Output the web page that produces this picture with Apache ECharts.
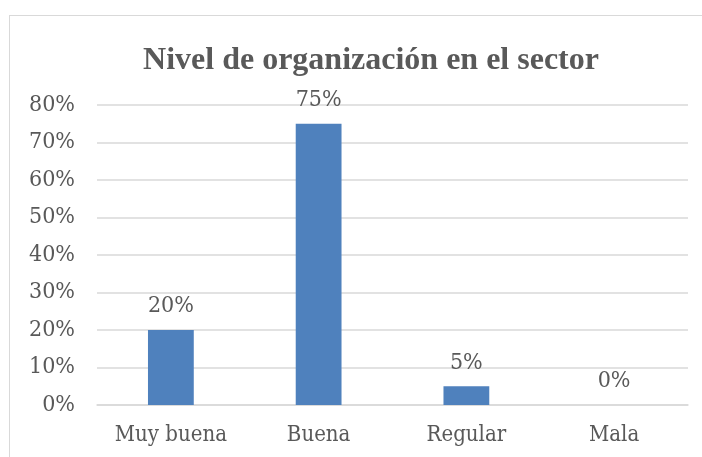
<!DOCTYPE html>
<html>
<head>
<meta charset="utf-8">
<script src="https://cdn.jsdelivr.net/npm/echarts@6/dist/echarts.min.js"></script>
<style>
  html, body { margin: 0; padding: 0; background: #fff; overflow: hidden; }
  #chart {
    position: absolute; left: 9px; top: 15px;
    width: 702px; height: 460px;
    border: 1.5px solid #d9d9d9; box-sizing: border-box;
  }
</style>
</head>
<body>
<div id="chart"></div>
<script>
// datos del gráfico
var categorias = ["Muy buena", "Buena", "Regular", "Mala"];
var valores = [20, 75, 5, 0];
var titulo = "Nivel de organización en el sector";

var labelFont = "'DejaVu Serif Condensed', 'Liberation Serif', serif";

var myecharts = echarts.init(document.getElementById("chart"));
var option = {
  animation: false,
  title: {
    text: titulo,
    left: 356,
    top: 24,
    textAlign: "center",
    textStyle: {
      fontFamily: "'Liberation Serif', serif",
      fontWeight: "bold",
      fontSize: 32,
      color: "#595959"
    }
  },
  grid: {
    left: 87,
    top: 89,
    width: 591,
    height: 300
  },
  xAxis: {
    type: "category",
    data: categorias,
    axisLine: { show: true, lineStyle: { color: "#d9d9d9", width: 1.5 } },
    axisTick: { show: false },
    axisLabel: {
      margin: 19,
      fontFamily: labelFont,
      fontSize: 22,
      color: "#595959"
    }
  },
  yAxis: {
    type: "value",
    min: 0,
    max: 80,
    interval: 10,
    axisLine: { show: false },
    axisTick: { show: false },
    splitLine: { lineStyle: { color: "#d9d9d9", width: 1.5 } },
    axisLabel: {
      margin: 22,
      fontFamily: labelFont,
      fontSize: 23,
      color: "#595959",
      formatter: "{value}%"
    }
  },
  series: [
    {
      type: "bar",
      data: valores,
      barWidth: "31%",
      itemStyle: { color: "#4f81bd" },
      label: {
        show: true,
        position: "top",
        distance: 12,
        fontFamily: labelFont,
        fontSize: 23,
        color: "#595959",
        formatter: "{c}%"
      }
    }
  ]
};
myecharts.setOption(option);
</script>
</body>
</html>
